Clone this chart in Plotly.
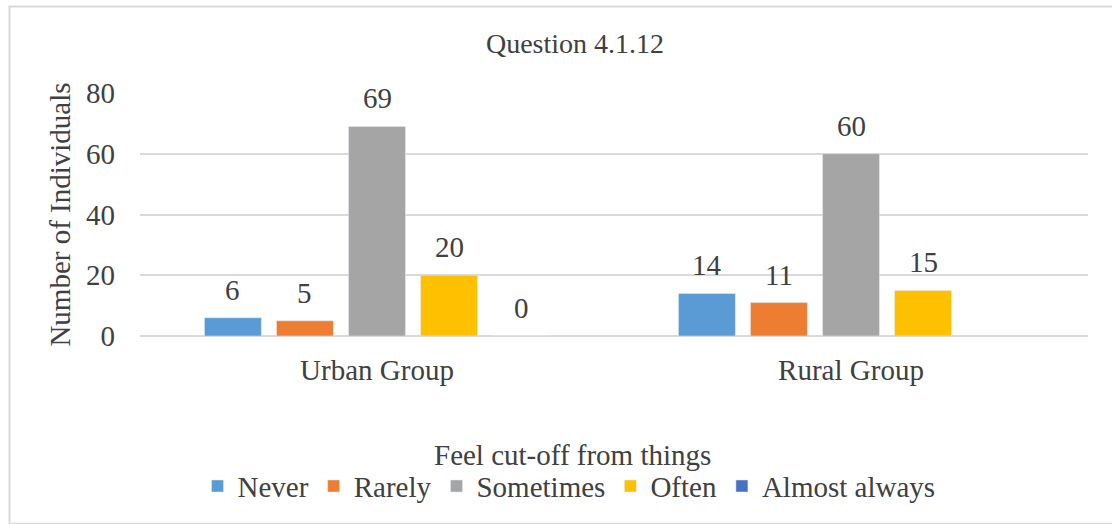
import plotly.graph_objects as go

groups = ["Urban Group", "Rural Group"]
series = ["Never", "Rarely", "Sometimes", "Often", "Almost always"]
never = [6, 14]
rarely = [5, 11]
sometimes = [69, 60]
often = [20, 15]
almost_always = [0, None]
y_ticks = [0, 20, 40, 60, 80]

values = [never, rarely, sometimes, often, almost_always]
colors = ["#5B9BD5", "#ED7D31", "#A5A5A5", "#FFC000", "#4472C4"]

FONT = "Liberation Serif"
TXT = "#404040"
FS = 29

W, H = 1112, 524
L, R, T, B = 140, 24, 93, 185
pw, ph = W - L - R, H - T - B
BARGAP, GROUPGAP = 0.24, 0.21

fig = go.Figure()
for name, vals, col in zip(series, values, colors):
    fig.add_trace(go.Bar(name=name, x=groups, y=vals, marker_color=col))

# data labels above bars (offset derived from grouped-bar layout)
slot_px = pw / len(groups) * (1 - BARGAP) / len(series)
for i, vals in enumerate(values):
    for g, v in zip(groups, vals):
        if v is None:
            continue
        fig.add_annotation(
            x=g, y=v, xref="x", yref="y", text=str(v), showarrow=False,
            xanchor="center", yanchor="bottom",
            xshift=(i - (len(series) - 1) / 2) * slot_px, yshift=10,
            font=dict(family=FONT, size=FS, color=TXT),
        )

fig.update_layout(
    width=W, height=H,
    margin=dict(l=L, r=R, t=T, b=B),
    paper_bgcolor="white", plot_bgcolor="white",
    barmode="group", bargap=BARGAP, bargroupgap=GROUPGAP,
    font=dict(family=FONT, color=TXT, size=FS),
    title=dict(text="Question 4.1.12", x=575 / W, xanchor="center",
               y=1 - 43 / H, yanchor="middle", yref="container",
               font=dict(family=FONT, size=28, color=TXT)),
    legend=dict(orientation="h", x=(569 - L) / pw, xanchor="center",
                y=(339 - 491) / ph, yanchor="middle",
                font=dict(family=FONT, size=FS, color=TXT),
                itemwidth=30, tracegroupgap=0),
    showlegend=True,
)
fig.update_xaxes(
    showgrid=False, showline=False, zeroline=False, ticks="",
    ticklabelstandoff=14,
    tickfont=dict(family=FONT, size=FS, color=TXT),
)
# x-axis title (centred like the reference, slightly left of plot centre)
fig.add_annotation(
    x=(572 - L) / pw, y=(339 - 459) / ph, xref="paper", yref="paper",
    text="Feel cut-off from things", showarrow=False,
    xanchor="center", yanchor="middle",
    font=dict(family=FONT, size=FS, color=TXT),
)
fig.update_yaxes(
    range=[0, 80], tickvals=y_ticks, showgrid=True, gridcolor="#D9D9D9",
    gridwidth=1.5, zeroline=True, zerolinecolor="#D9D9D9", zerolinewidth=1.5,
    showline=False, ticks="", ticklabelstandoff=24,
    tickfont=dict(family=FONT, size=FS, color=TXT),
    title=dict(text="Number of Individuals", standoff=6,
               font=dict(family=FONT, size=FS, color=TXT)),
)

# outer chart border (Excel chart area outline)
fig.add_shape(type="rect", xref="paper", yref="paper",
              x0=(9.5 - L) / pw, x1=(W + 5 - L) / pw,
              y0=-(H + 5 - T - ph) / ph, y1=1 + (T - 5.5) / ph,
              line=dict(color="#D9D9D9", width=2), fillcolor="rgba(0,0,0,0)",
              layer="below")

fig.write_html("out.html")
